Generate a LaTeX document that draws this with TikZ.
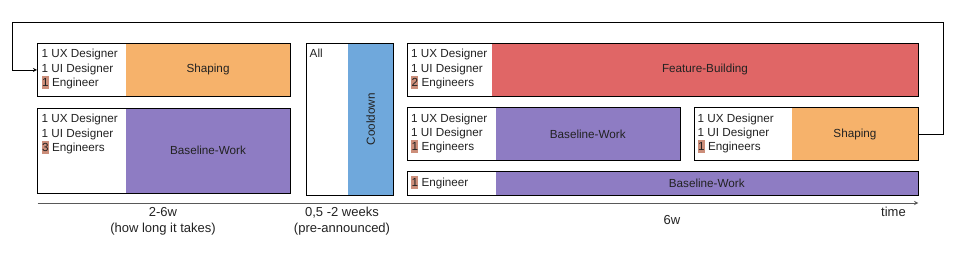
\documentclass[tikz,border=0pt]{standalone}
\usepackage{fontspec}
\setmainfont{Liberation Sans}
\usetikzlibrary{positioning}

\definecolor{shapecol}{HTML}{F6B26B}
\definecolor{basecol}{HTML}{8E7CC3}
\definecolor{featcol}{HTML}{E06666}
\definecolor{coolcol}{HTML}{6FA8DC}
\definecolor{hlcol}{RGB}{204,142,122}
\definecolor{textcol}{HTML}{222222}
\definecolor{axiscol}{HTML}{595959}

\newcommand{\hlnum}[1]{{\setlength{\fboxsep}{0.3pt}\colorbox{hlcol}{\rule[-2.5pt]{0pt}{12.8pt}#1}}}

\tikzset{
  frame/.style={draw, line width=0.9pt, inner sep=0pt, anchor=north west},
  work/.style={inner sep=0pt, anchor=north east, text=textcol},
  team/.style={inner sep=0pt, anchor=north west, align=left, text=textcol},
  span/.style={align=center, text=textcol, font=\fontsize{13}{16}\selectfont},
}

\begin{document}
\begin{tikzpicture}[>=stealth, x=1pt, y=-1pt, font=\fontsize{11.7}{14.3}\selectfont]
  \useasboundingbox (0,0) rectangle (956,258);
  % first cycle
  \node[work, fill=shapecol, minimum width=163.5pt, minimum height=53pt] (shapeAwork) at (290,43) {Shaping};
  \node[frame, minimum width=253pt, minimum height=53pt] (shapeA) at (37,43) {};
  \node[team] (shapeAteam) at (41.5,49.1) {1 UX Designer\\1 UI Designer\\\hlnum{1} Engineer};
  \node[work, fill=basecol, minimum width=163.5pt, minimum height=85pt] (baseAwork) at (290,108) {Baseline-Work};
  \node[frame, minimum width=253pt, minimum height=85pt] (baseA) at (37,108) {};
  \node[team] (baseAteam) at (41.5,114.1) {1 UX Designer\\1 UI Designer\\\hlnum{3} Engineers};
  % cooldown
  \node[work, fill=coolcol, minimum width=45pt, minimum height=152pt] (coolwork) at (393.3,43) {};
  \node[rotate=90, text=textcol] (coollabel) at (coolwork.center) {Cooldown};
  \node[frame, minimum width=87.6pt, minimum height=152pt] (cool) at (305.7,43) {};
  \node[team] (coolteam) at (309.5,49.1) {All};
  % second cycle
  \node[work, fill=featcol, minimum width=426.3pt, minimum height=53pt] (featwork) at (918.3,43) {Feature-Building};
  \node[frame, minimum width=511.6pt, minimum height=53pt] (feat) at (406.7,43) {};
  \node[team] (featteam) at (411,49.1) {1 UX Designer\\1 UI Designer\\\hlnum{2} Engineers};
  \node[work, fill=basecol, minimum width=184.6pt, minimum height=53pt] (baseBwork) at (680.3,107.3) {Baseline-Work};
  \node[frame, minimum width=273.6pt, minimum height=53pt] (baseB) at (406.7,107.3) {};
  \node[team] (baseBteam) at (411,113.4) {1 UX Designer\\1 UI Designer\\\hlnum{1} Engineers};
  \node[work, fill=shapecol, minimum width=126.3pt, minimum height=53pt] (shapeBwork) at (918.3,107.3) {Shaping};
  \node[frame, minimum width=224.6pt, minimum height=53pt] (shapeB) at (693.7,107.3) {};
  \node[team] (shapeBteam) at (697.5,113.4) {1 UX Designer\\1 UI Designer\\\hlnum{1} Engineers};
  \node[work, fill=basecol, minimum width=422.6pt, minimum height=23.7pt] (baseCwork) at (918.3,171.3) {Baseline-Work};
  \node[frame, minimum width=511.6pt, minimum height=23.7pt] (baseC) at (406.7,171.3) {};
  \node[team, anchor=west] (baseCteam) at (411,182.6) {\hlnum{1} Engineer};
  % time axis
  \coordinate (axisL) at (37.7,203);
  \coordinate (axisR) at (918.3,203);
  \draw[->, axiscol, line width=0.9pt] (axisL) -- (axisR);
  \node[span] (timelabel) at (893.5,212) {time};
  \node[span] (spanA) at (163,221) {2-6w\\(how long it takes)};
  \node[span] (spanCool) at (342,221) {0,5 -2 weeks\\(pre-announced)};
  \node[span] (spanB) at (672,220.5) {6w};
  % loop back to shaping
  \coordinate (loopTR) at (943.3,22.3);
  \coordinate (loopTL) at (12.3,22.3);
  \draw[->, line width=0.8pt] (shapeB.east) -| (loopTR) -- (loopTL) |- (shapeA.west);
\end{tikzpicture}
\end{document}
